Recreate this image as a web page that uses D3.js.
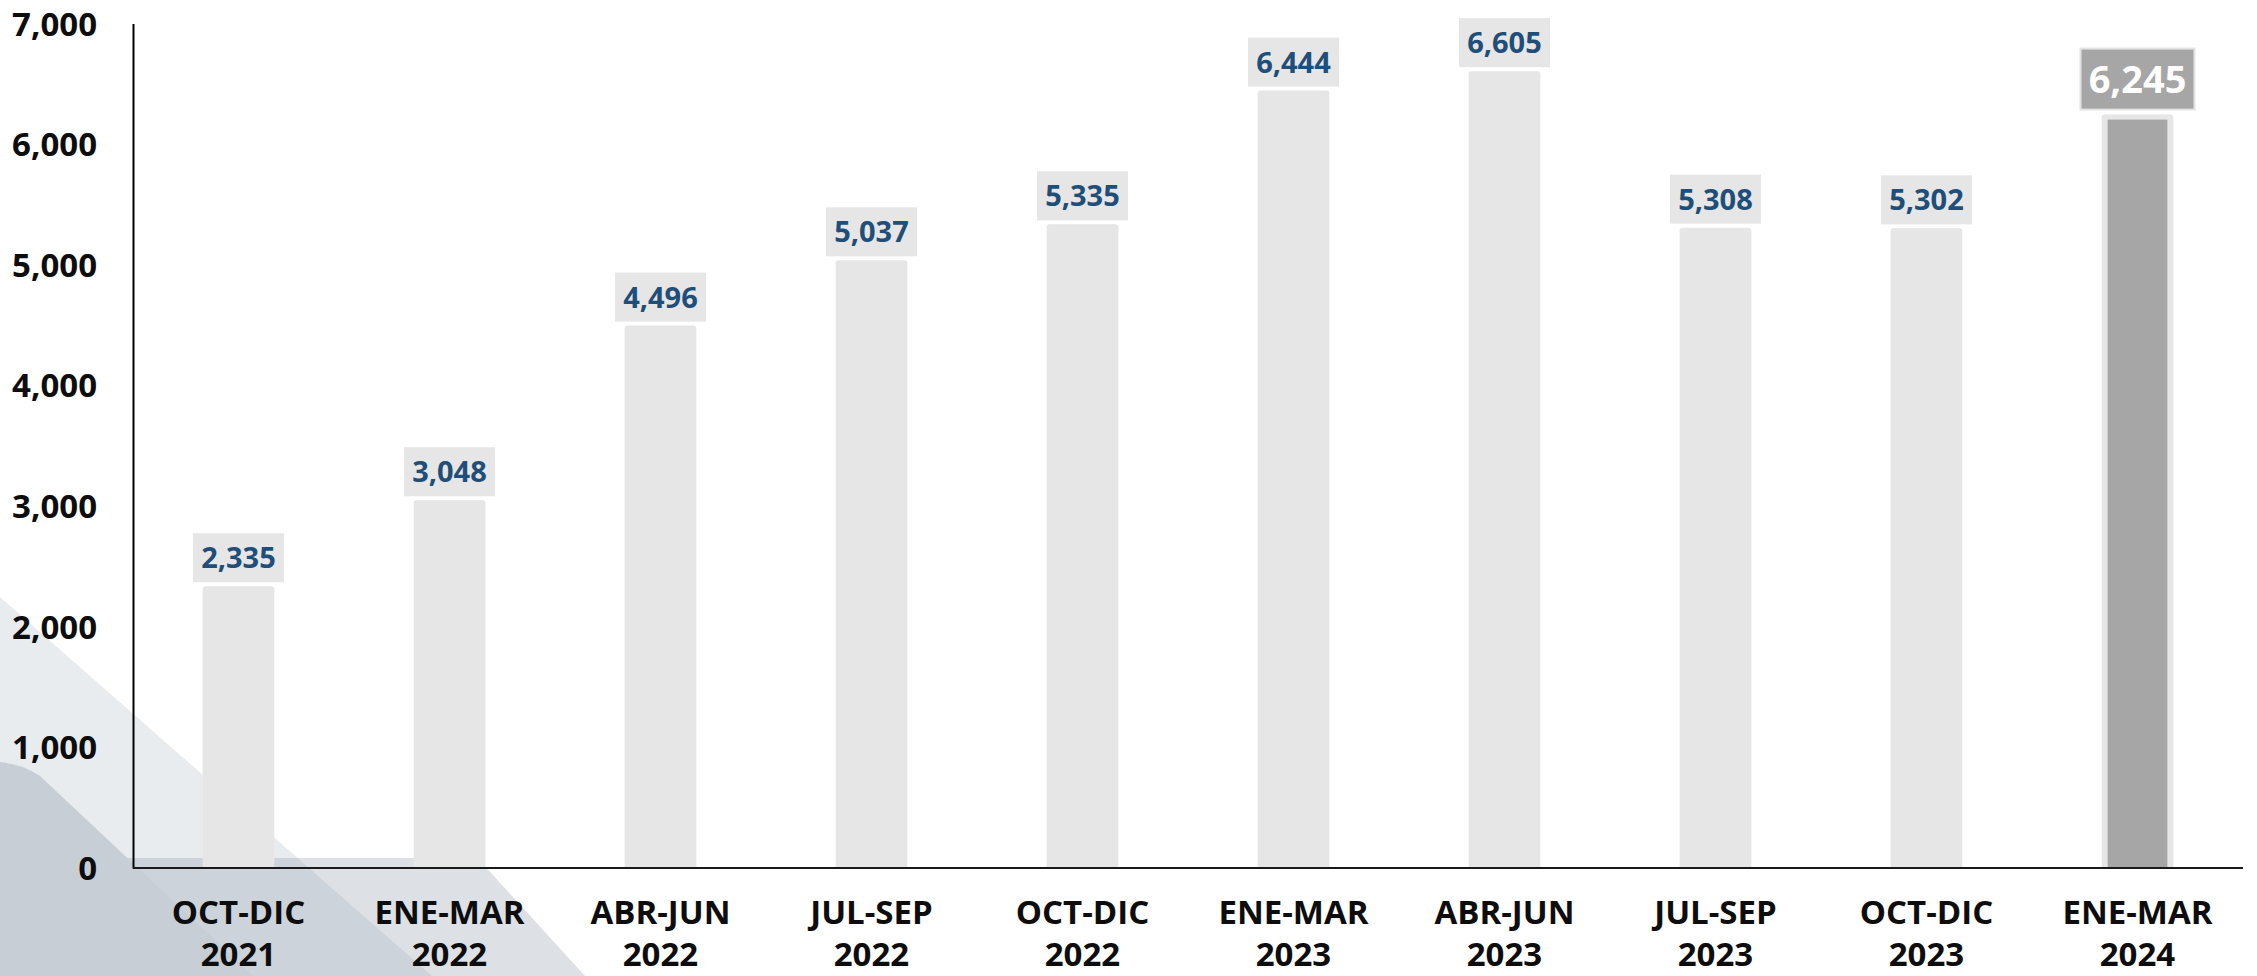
<!DOCTYPE html>
<html>
<head>
<meta charset="utf-8">
<script src="https://cdn.jsdelivr.net/npm/d3@7"></script>
<style>
  body { margin: 0; background: #fff; }
  svg { display: block; font-family: "Open Sans", "DejaVu Sans", sans-serif; }
</style>
</head>
<body>
<div id="chart"></div>
<script>
// quarters shown on the x axis (two lines each)
var periods = ["OCT-DIC", "ENE-MAR", "ABR-JUN", "JUL-SEP", "OCT-DIC", "ENE-MAR", "ABR-JUN", "JUL-SEP", "OCT-DIC", "ENE-MAR"];
var years = ["2021", "2022", "2022", "2022", "2022", "2023", "2023", "2023", "2023", "2024"];
var values = [2335, 3048, 4496, 5037, 5335, 6444, 6605, 5308, 5302, 6245];
var yTicks = [0, 1000, 2000, 3000, 4000, 5000, 6000, 7000];

var svgWidth = 2257;
var svgHeight = 976;

var margin = { top: 23.5, right: 14, bottom: 108, left: 133 };
var width = svgWidth - margin.left - margin.right;
var height = svgHeight - margin.top - margin.bottom;

var svg = d3.select("#chart")
  .append("svg")
  .attr("width", svgWidth)
  .attr("height", svgHeight);

// decorative shapes in the lower left corner
var deco = svg.append("g");
deco.append("path")
  .attr("d", "M0,597 L432,976 L0,976 Z")
  .attr("fill", "#78879b")
  .attr("opacity", 0.16);
deco.append("path")
  .attr("d", "M0,858 L455,858 Q478,858 492,874 L585,976 L0,976 Z")
  .attr("fill", "#78879b")
  .attr("opacity", 0.25);
deco.append("path")
  .attr("d", "M0,762 Q22,764 40,776 L253,976 L0,976 Z")
  .attr("fill", "#c8ced6");

var chartGroup = svg.append("g")
  .attr("transform", `translate(${margin.left}, ${margin.top})`);

var xBandScale = d3.scaleBand()
  .domain(d3.range(values.length))
  .range([0, width])
  .paddingInner(0.66)
  .paddingOuter(0.33);

var yLinearScale = d3.scaleLinear()
  .domain([0, 7000])
  .range([height, 0]);

// rounded top bar path
function barPath(x, y, w, h, r) {
  return `M${x},${y + h} L${x},${y + r} Q${x},${y} ${x + r},${y} L${x + w - r},${y} Q${x + w},${y} ${x + w},${y + r} L${x + w},${y + h} Z`;
}

var last = values.length - 1;
var bw = xBandScale.bandwidth();

// bars
chartGroup.selectAll(".bar")
  .data(values)
  .enter()
  .append("path")
  .attr("class", "bar")
  .attr("d", (d, i) => barPath(xBandScale(i), yLinearScale(d), bw, height - yLinearScale(d), 3))
  .attr("fill", "#e6e6e6");

// highlighted last bar: dark fill inside the light frame
chartGroup.append("rect")
  .attr("x", xBandScale(last) + 6)
  .attr("y", yLinearScale(values[last]) + 5)
  .attr("width", bw - 12)
  .attr("height", height - yLinearScale(values[last]) - 6)
  .attr("fill", "#a6a6a6");

// axes
var yAxis = d3.axisLeft(yLinearScale)
  .tickValues(yTicks)
  .tickFormat(d3.format(","))
  .tickSize(0)
  .tickPadding(36);

var yAxisGroup = chartGroup.append("g").call(yAxis);
yAxisGroup.select(".domain").attr("stroke", "#000").attr("stroke-width", 2);
yAxisGroup.selectAll("text")
  .attr("font-size", "33px")
  .attr("font-weight", "bold")
  .attr("fill", "#0d0d0d")
  .attr("font-family", "Open Sans")
  .attr("dy", "0.35em");

chartGroup.append("line")
  .attr("x1", 0)
  .attr("x2", width)
  .attr("y1", height)
  .attr("y2", height)
  .attr("stroke", "#1a1a1a")
  .attr("stroke-width", 2);

// category labels
var xLabels = chartGroup.selectAll(".xlab")
  .data(periods)
  .enter()
  .append("text")
  .attr("class", "xlab")
  .attr("text-anchor", "middle")
  .attr("font-size", "33px")
  .attr("font-weight", "bold")
  .attr("fill", "#0d0d0d");
xLabels.append("tspan")
  .attr("x", (d, i) => xBandScale(i) + bw / 2)
  .attr("y", height + 56)
  .text(d => d);
xLabels.append("tspan")
  .attr("x", (d, i) => xBandScale(i) + bw / 2)
  .attr("y", height + 98)
  .text((d, i) => years[i]);

// value label boxes
var labelGroup = chartGroup.selectAll(".vlab")
  .data(values)
  .enter()
  .append("g")
  .attr("class", "vlab");

labelGroup.append("rect")
  .attr("x", (d, i) => xBandScale(i) + bw / 2 - (i === last ? 57 : 45.5))
  .attr("y", (d, i) => yLinearScale(d) - (i === last ? 66 : 53))
  .attr("width", (d, i) => i === last ? 114 : 91)
  .attr("height", (d, i) => i === last ? 61 : 49)
  .attr("fill", (d, i) => i === last ? "#a6a6a6" : "#e6e6e6")
  .attr("stroke", (d, i) => i === last ? "#e3e3e3" : "none")
  .attr("stroke-width", 2);

labelGroup.append("text")
  .attr("x", (d, i) => xBandScale(i) + bw / 2)
  .attr("y", (d, i) => yLinearScale(d) - (i === last ? 35.5 : 28.5))
  .attr("dy", "0.36em")
  .attr("text-anchor", "middle")
  .attr("font-weight", "bold")
  .attr("font-size", (d, i) => i === last ? "38px" : "29px")
  .attr("fill", (d, i) => i === last ? "#ffffff" : "#1f4e79")
  .text(d => d3.format(",")(d));
</script>
</body>
</html>
